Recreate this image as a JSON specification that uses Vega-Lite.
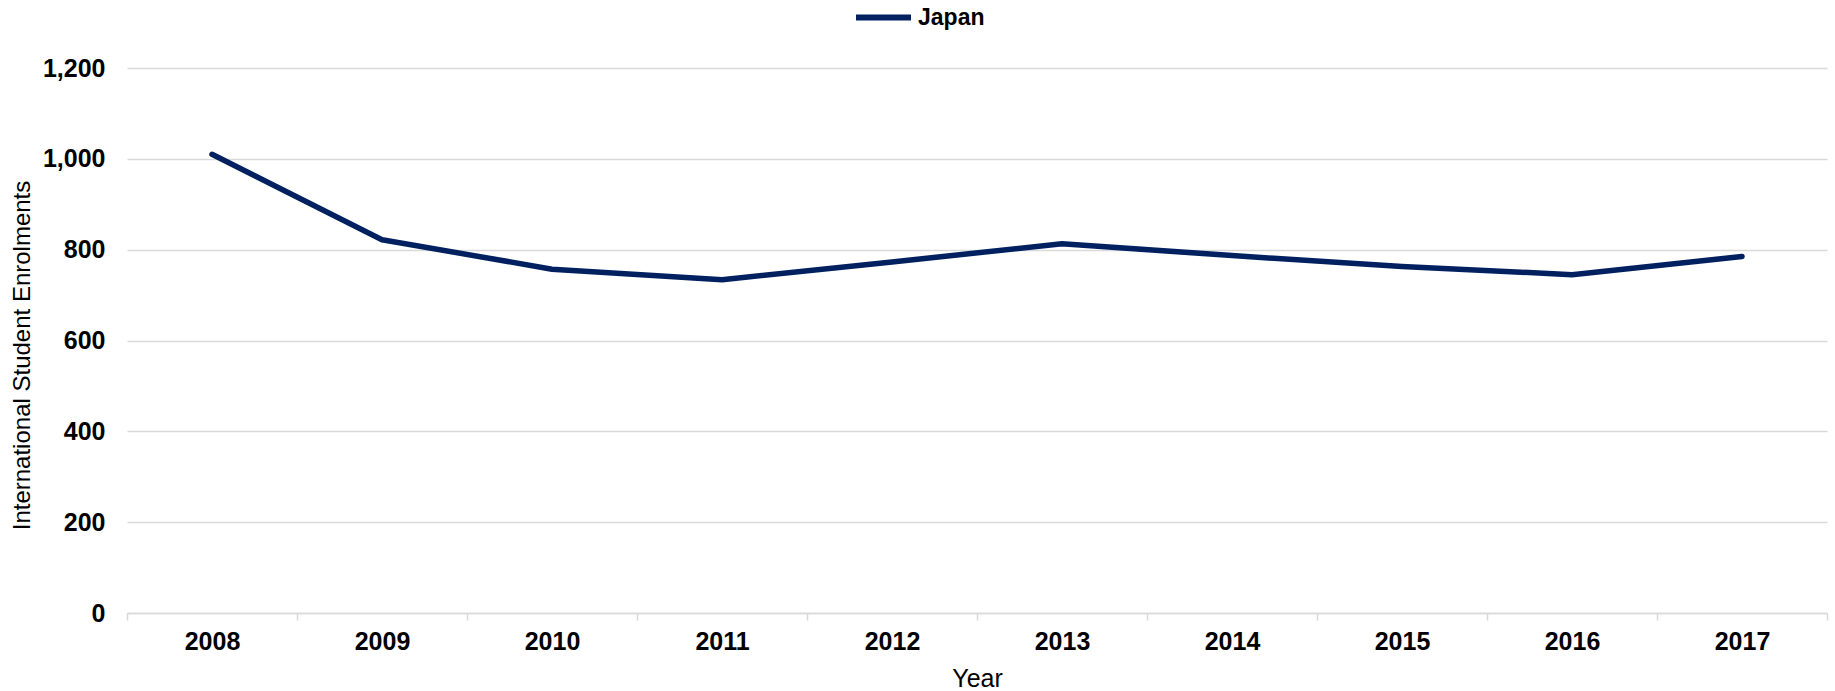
{
  "$schema": "https://vega.github.io/schema/vega-lite/v6.json",
  "autosize": {"type": "none"},
  "width": 1700,
  "height": 545,
  "padding": {"left": 127, "top": 68, "right": 8, "bottom": 78},
  "background": "white",
  "data": {"values": [
    {"Year": "2008", "Country": "Japan", "Enrolments": 1010},
    {"Year": "2009", "Country": "Japan", "Enrolments": 822},
    {"Year": "2010", "Country": "Japan", "Enrolments": 757},
    {"Year": "2011", "Country": "Japan", "Enrolments": 734},
    {"Year": "2012", "Country": "Japan", "Enrolments": 773},
    {"Year": "2013", "Country": "Japan", "Enrolments": 813},
    {"Year": "2014", "Country": "Japan", "Enrolments": 787},
    {"Year": "2015", "Country": "Japan", "Enrolments": 763},
    {"Year": "2016", "Country": "Japan", "Enrolments": 745},
    {"Year": "2017", "Country": "Japan", "Enrolments": 785}
  ]},
  "mark": {"type": "line", "strokeWidth": 5.5, "strokeCap": "round", "strokeJoin": "round"},
  "encoding": {
    "x": {
      "field": "Year", "type": "ordinal",
      "scale": {"type": "band", "paddingInner": 0, "paddingOuter": 0},
      "axis": {
        "title": "Year", "labelAngle": 0, "tickBand": "extent",
        "domainColor": "#d9d9d9", "domainWidth": 1.5, "tickColor": "#d9d9d9", "tickWidth": 1.5, "tickSize": 7,
        "labelFont": "Liberation Sans", "labelFontWeight": "bold", "labelFontSize": 25, "labelColor": "#000000", "labelPadding": 9,
        "titleFont": "Liberation Sans", "titleFontWeight": "normal", "titleFontSize": 25, "titleColor": "#000000", "titlePadding": 12,
        "grid": false
      }
    },
    "y": {
      "field": "Enrolments", "type": "quantitative",
      "scale": {"domain": [0, 1200], "nice": false},
      "axis": {
        "title": "International Student Enrolments", "values": [0, 200, 400, 600, 800, 1000, 1200], "format": ",.0f",
        "domain": false, "ticks": false, "tickSize": 0,
        "gridColor": "#d9d9d9", "gridWidth": 1.5,
        "labelFont": "Liberation Sans", "labelFontWeight": "bold", "labelFontSize": 25, "labelColor": "#000000", "labelPadding": 22,
        "titleFont": "Liberation Sans", "titleFontWeight": "normal", "titleFontSize": 24, "titleColor": "#000000", "titleX": -93, "titleY": 287
      }
    },
    "color": {
      "field": "Country", "type": "nominal",
      "scale": {"range": ["#002060"]},
      "legend": {
        "title": null, "orient": "none", "legendX": 726, "legendY": -81,
        "symbolType": "stroke", "symbolSize": 3025, "symbolStrokeWidth": 6, "symbolStrokeColor": "#002060",
        "labelFont": "Liberation Sans", "labelFontWeight": "bold", "labelFontSize": 23, "labelColor": "#000000", "labelOffset": 4
      }
    }
  },
  "config": {"view": {"stroke": null}}
}
